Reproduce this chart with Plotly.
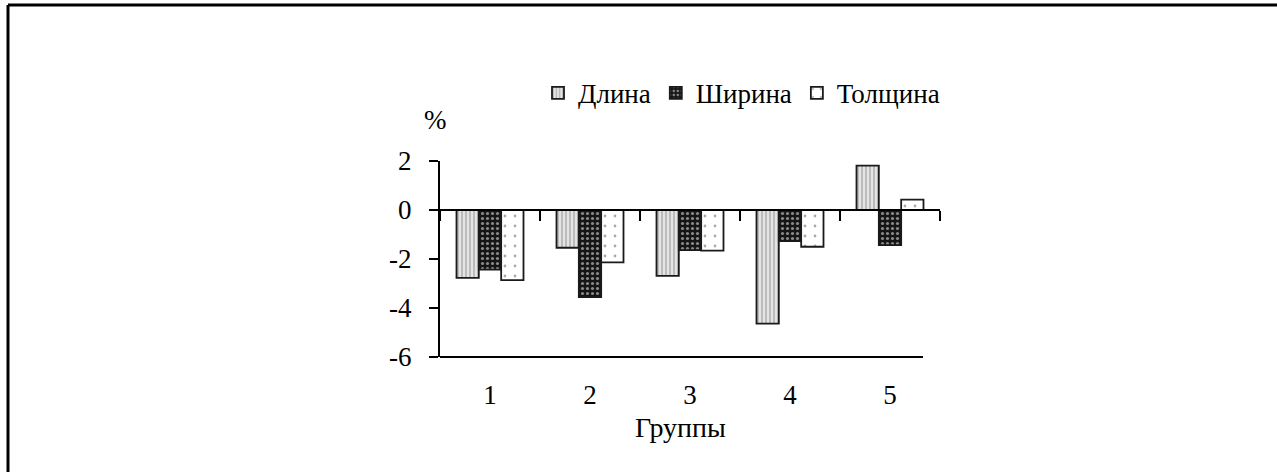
import plotly.graph_objects as go

groups = [1, 2, 3, 4, 5]
group_labels = ["1", "2", "3", "4", "5"]
series_names = ["Длина", "Ширина", "Толщина"]
dlina = [-2.77, -1.54, -2.69, -4.64, 1.81]
shirina = [-2.43, -3.55, -1.64, -1.27, -1.43]
tolshchina = [-2.86, -2.14, -1.66, -1.50, 0.42]
y_ticks = [2, 0, -2, -4, -6]
y_tick_labels = ["2", "0", "-2", "-4", "-6"]

FONT = "Liberation Serif"
FS = 27

patterns = [
    dict(shape="|", fgcolor="#8a8a8a", bgcolor="#e4e4e4", size=4, solidity=0.45),
    dict(shape=".", fgcolor="#ffffff", bgcolor="#151515", size=5, solidity=0.3),
    dict(shape=".", fgcolor="#555555", bgcolor="#ffffff", size=10, solidity=0.06),
]

fig = go.Figure()
for name, vals, pat in zip(series_names, [dlina, shirina, tolshchina], patterns):
    fig.add_trace(go.Bar(
        x=groups, y=vals, name=name,
        marker=dict(color=pat["bgcolor"], pattern=pat,
                    line=dict(color="#1a1a1a", width=1.8)),
        xaxis="x", yaxis="y",
    ))

# invisible helper trace so that the zero-level category axis is drawn
fig.add_trace(go.Scatter(x=groups, y=[None] * len(groups), xaxis="x2", yaxis="y",
                         showlegend=False, hoverinfo="skip"))

fig.update_layout(
    width=1277, height=472,
    margin=dict(l=440, r=337, t=161, b=115),
    paper_bgcolor="white", plot_bgcolor="white",
    barmode="group", bargap=0.33, bargroupgap=0,
    font=dict(family=FONT, size=FS, color="black"),
    showlegend=True,
    legend=dict(orientation="h", x=0.196, y=1.345, xanchor="left", yanchor="middle",
                font=dict(family=FONT, size=FS), itemwidth=30,
                bgcolor="rgba(0,0,0,0)", traceorder="normal"),
    xaxis=dict(range=[0.5, 5.5], tickvals=groups, ticktext=group_labels,
               showline=False, ticks="", showgrid=False, zeroline=False,
               ticklabelstandoff=19, tickfont=dict(family=FONT, size=FS)),
    xaxis2=dict(range=[0.5, 5.5], overlaying="x", anchor="free", position=0.75,
                side="bottom", showline=True, linecolor="black", linewidth=2,
                tickvals=[0.5, 1.5, 2.5, 3.5, 4.5, 5.5], ticks="outside", ticklen=10,
                tickwidth=2, tickcolor="black", showticklabels=False, showgrid=False,
                zeroline=False),
    yaxis=dict(range=[-6, 2], tickvals=y_ticks, ticktext=y_tick_labels,
               showline=True, linecolor="black",
               linewidth=2, ticks="outside", ticklen=9, tickwidth=2, tickcolor="black",
               ticklabelstandoff=12,
               showgrid=False, zeroline=False, tickfont=dict(family=FONT, size=FS)),
    shapes=[
        # bottom frame line of the plot
        dict(type="line", xref="paper", yref="paper", x0=0, x1=0.966, y0=0, y1=0,
             line=dict(color="black", width=2)),
        # page frame lines (top and left)
        dict(type="line", xref="paper", yref="paper", x0=-0.864, x1=1.674, y0=1.796, y1=1.796,
             line=dict(color="black", width=3)),
        dict(type="line", xref="paper", yref="paper", x0=-0.864, x1=-0.864, y0=-0.6, y1=1.796,
             line=dict(color="black", width=3)),
    ],
    annotations=[
        dict(text="%", xref="paper", yref="paper", x=-0.01, y=1.209, showarrow=False,
             xanchor="center", yanchor="middle", font=dict(family=FONT, size=FS)),
        dict(text="Группы", xref="paper", yref="paper", x=0.48, y=-0.36, showarrow=False,
             xanchor="center", yanchor="middle", font=dict(family=FONT, size=28)),
    ],
)

fig.write_html("out.html", post_script="document.body.style.margin='0';",
               config={"displayModeBar": False})
